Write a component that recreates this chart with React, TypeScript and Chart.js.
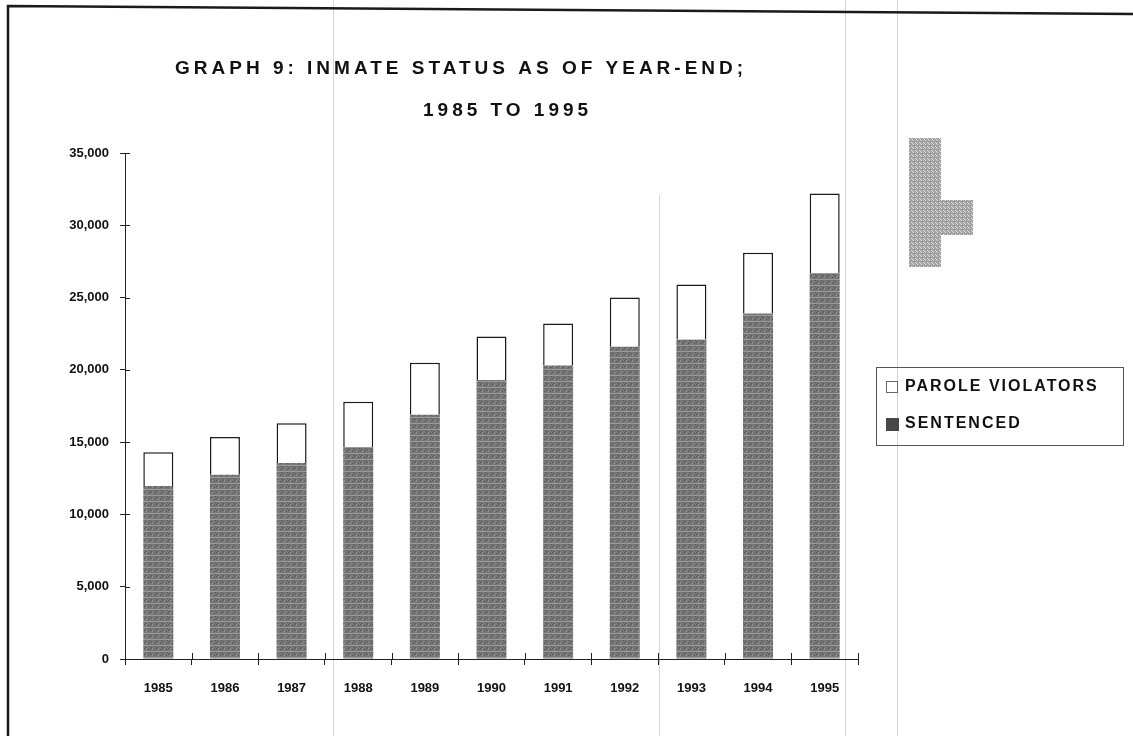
import React, { useEffect, useRef } from "react";
import { Chart, registerables } from "chart.js";

Chart.register(...registerables);

// ---- data ----
const years = ["1985", "1986", "1987", "1988", "1989", "1990", "1991", "1992", "1993", "1994", "1995"];
const sentenced = [11960, 12750, 13550, 14660, 16900, 19300, 20300, 21600, 22100, 23900, 26700];
const paroleViolators = [2340, 2600, 2750, 3140, 3600, 3000, 2900, 3400, 3800, 4200, 5500];
const titleLines = ["GRAPH 9: INMATE STATUS AS OF YEAR-END;", "1985 TO 1995"];
const seriesNames = ["SENTENCED", "PAROLE VIOLATORS"];
const yMin = 0;
const yMax = 35000;
const yStep = 5000;

const FONT = "'Liberation Sans', Arial, sans-serif";

function makeSentencedPattern(): CanvasPattern | string {
  const c = document.createElement("canvas");
  c.width = 6;
  c.height = 6;
  const g = c.getContext("2d");
  if (!g) return "#767676";
  g.fillStyle = "#777777";
  g.fillRect(0, 0, 6, 6);
  g.fillStyle = "#9a9a9a";
  g.fillRect(0, 3, 6, 1);
  g.fillStyle = "#8e8e8e";
  g.fillRect(2, 0, 1, 2);
  g.fillStyle = "#555555";
  g.fillRect(0, 0, 1, 1);
  g.fillRect(4, 1, 1, 1);
  g.fillRect(1, 5, 1, 1);
  g.fillRect(5, 4, 1, 1);
  const p = g.createPattern(c, "repeat");
  return p || "#767676";
}

function makeSmudgePattern(): CanvasPattern | string {
  const c = document.createElement("canvas");
  c.width = 4;
  c.height = 4;
  const g = c.getContext("2d");
  if (!g) return "#b0b0b0";
  g.fillStyle = "#a4a4a4";
  g.fillRect(0, 0, 4, 4);
  g.fillStyle = "#dcdcdc";
  g.fillRect(1, 0, 1, 1);
  g.fillRect(3, 2, 1, 1);
  g.fillRect(0, 3, 1, 1);
  g.fillStyle = "#8a8a8a";
  g.fillRect(2, 1, 1, 1);
  const p = g.createPattern(c, "repeat");
  return p || "#b0b0b0";
}

const decorPlugin = {
  id: "decor",
  beforeDraw(chart: any) {
    const ctx: CanvasRenderingContext2D = chart.ctx;
    ctx.save();
    ctx.fillStyle = "#ffffff";
    ctx.fillRect(0, 0, chart.width, chart.height);
    // faint scanner lines
    ctx.strokeStyle = "#d6d6d6";
    ctx.lineWidth = 1;
    const lines = [
      [333.5, 0, 736],
      [659.5, 195, 736],
      [845.5, 0, 736],
      [897.5, 0, 736],
    ];
    for (const [x, y0, y1] of lines) {
      ctx.beginPath();
      ctx.moveTo(x, y0);
      ctx.lineTo(x, y1);
      ctx.stroke();
    }
    // scanner smudge
    ctx.fillStyle = makeSmudgePattern() as any;
    ctx.fillRect(909, 138, 32, 129);
    ctx.fillRect(941, 200, 32, 35);
    // page frame
    ctx.strokeStyle = "#1a1a1a";
    ctx.lineWidth = 2.5;
    ctx.beginPath();
    ctx.moveTo(8, 736);
    ctx.lineTo(8, 6);
    ctx.lineTo(1133, 14);
    ctx.stroke();
    ctx.restore();
  },
  afterDatasetsDraw(chart: any) {
    const ctx: CanvasRenderingContext2D = chart.ctx;
    const xs = chart.scales.x;
    const ys = chart.scales.y;
    const area = chart.chartArea;
    ctx.save();
    ctx.strokeStyle = "#222";
    ctx.lineWidth = 1;
    // inner halves of the crossing tick marks
    for (let v = yMin; v <= yMax; v += yStep) {
      const py = Math.round(ys.getPixelForValue(v)) + 0.5;
      ctx.beginPath();
      ctx.moveTo(area.left, py);
      ctx.lineTo(area.left + 5, py);
      ctx.stroke();
    }
    for (let i = 0; i <= years.length; i++) {
      const px = Math.round(xs.left + (xs.width * i) / years.length) + 0.5;
      ctx.beginPath();
      ctx.moveTo(px, area.bottom);
      ctx.lineTo(px, area.bottom - 6);
      ctx.stroke();
    }
    ctx.restore();
  },
  afterDraw(chart: any) {
    const ctx: any = chart.ctx;
    ctx.save();
    // title
    ctx.fillStyle = "#111";
    ctx.textAlign = "left";
    ctx.textBaseline = "middle";
    ctx.font = `bold 19px ${FONT}`;
    ctx.letterSpacing = "4px";
    ctx.fillText(titleLines[0], 175, 69);
    ctx.fillText(titleLines[1], 423, 111);

    // legend box
    ctx.letterSpacing = "0px";
    ctx.strokeStyle = "#555";
    ctx.lineWidth = 1;
    ctx.strokeRect(876.5, 367.5, 247, 78);
    const ds = chart.data.datasets;
    const order = [1, 0];
    order.forEach((di, row) => {
      const cy = row === 0 ? 387 : 424;
      const d = ds[di];
      if (di === 1) {
        ctx.fillStyle = "#fff";
        ctx.fillRect(886, cy - 6, 12, 12);
        ctx.strokeStyle = "#666";
        ctx.strokeRect(886.5, cy - 5.5, 11, 11);
      } else {
        ctx.fillStyle = "#474747";
        ctx.fillRect(886, cy - 6, 13, 13);
      }
      ctx.fillStyle = "#111";
      ctx.font = `bold 16px ${FONT}`;
      ctx.letterSpacing = "2px";
      ctx.textBaseline = "middle";
      ctx.fillText(d.label, 905, cy);
      ctx.letterSpacing = "0px";
    });
    ctx.restore();
  },
};

export default function App() {
  const canvasRef = useRef<HTMLCanvasElement | null>(null);

  useEffect(() => {
    const canvas = canvasRef.current;
    if (!canvas) return;
    const pattern = makeSentencedPattern();
    const chart = new Chart(canvas, {
      type: "bar",
      data: {
        labels: years,
        datasets: [
          {
            label: seriesNames[0],
            data: sentenced,
            backgroundColor: pattern as any,
            borderWidth: 0,
            barPercentage: 0.45,
            categoryPercentage: 1,
          },
          {
            label: seriesNames[1],
            data: paroleViolators,
            backgroundColor: "#ffffff",
            borderColor: "#1a1a1a",
            borderWidth: 1.5,
            borderSkipped: "bottom",
            barPercentage: 0.45,
            categoryPercentage: 1,
          },
        ],
      },
      options: {
        responsive: false,
        animation: false,
        devicePixelRatio: 1,
        layout: { padding: { left: 0, top: 153, right: 275, bottom: 0 } },
        plugins: {
          legend: { display: false },
          title: { display: false },
          tooltip: { enabled: false },
        },
        scales: {
          x: {
            stacked: true,
            grid: { offset: true, drawOnChartArea: false, tickLength: 6, color: "#222", lineWidth: 1 },
            border: { display: true, color: "#222", width: 1 },
            ticks: {
              color: "#111",
              padding: 16,
              font: { family: FONT, size: 13, weight: "bold" },
              maxRotation: 0,
            },
            afterFit: (s: any) => {
              s.height = 77;
            },
          },
          y: {
            stacked: true,
            min: yMin,
            max: yMax,
            grid: { drawOnChartArea: false, tickLength: 5, color: "#222", lineWidth: 1 },
            border: { display: true, color: "#222", width: 1 },
            ticks: {
              stepSize: yStep,
              color: "#111",
              padding: 11,
              font: { family: FONT, size: 13, weight: "bold" },
              callback: (v: any) => Number(v).toLocaleString("en-US"),
            },
            afterFit: (s: any) => {
              s.width = 125;
            },
          },
        },
      },
      plugins: [decorPlugin as any],
    });
    return () => chart.destroy();
  }, []);

  return (
    <div style={{ position: "absolute", left: 0, top: 0, width: 1133, height: 736, background: "#fff", overflow: "hidden" }}>
      <canvas ref={canvasRef} width={1133} height={736} style={{ display: "block", width: 1133, height: 736 }} />
    </div>
  );
}
